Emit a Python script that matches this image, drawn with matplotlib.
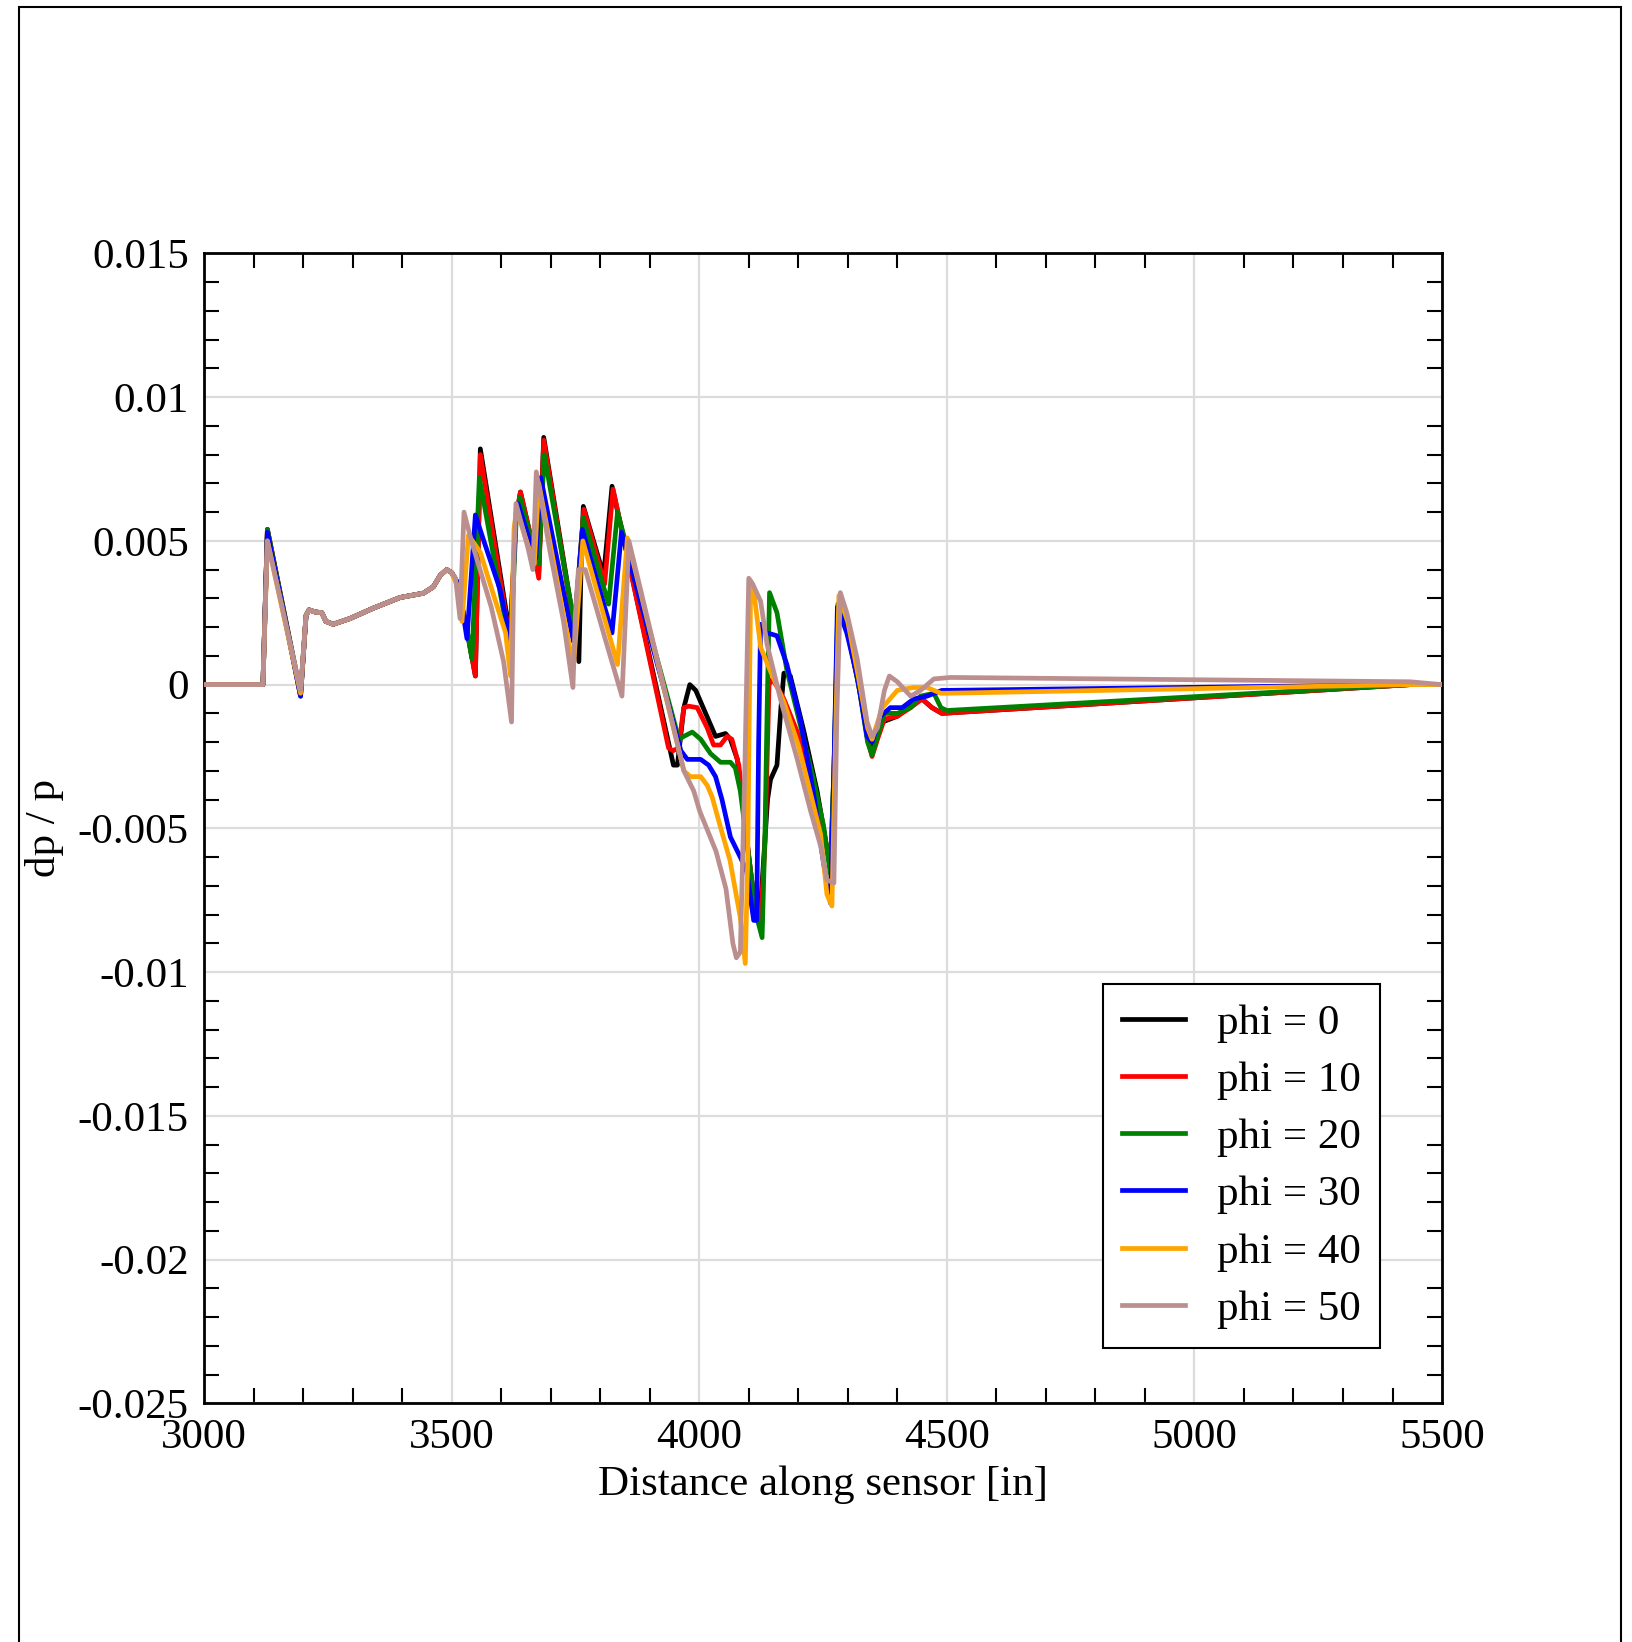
import matplotlib
matplotlib.use('Agg')
from matplotlib import pyplot as plt
from matplotlib.ticker import MultipleLocator, FuncFormatter
import matplotlib.patches as patches

plt.rcParams['font.family'] = ['Liberation Serif', 'DejaVu Serif']
plt.rcParams['axes.unicode_minus'] = False

#==== data ====
labels = ['phi = 0', 'phi = 10', 'phi = 20', 'phi = 30', 'phi = 40', 'phi = 50']
colors = ['black', 'red', 'green', 'blue', 'orange', 'rosybrown']

# first spike / dip, slightly different per phi
peak_3128 = [0.0054, 0.0054, 0.0054, 0.0053, 0.0050, 0.0050]
dip_3195 = [-0.0003, -0.0004, -0.0004, -0.0004, -0.0003, -0.0002]

# common part of all runs up to ~3500 in
x_common = [3206, 3212, 3224, 3238, 3246, 3261, 3295, 3342, 3396, 3443, 3463, 3477, 3490, 3500]
y_common = [0.0024, 0.0026, 0.00253, 0.0025, 0.0022, 0.0021, 0.0023, 0.00266, 0.00303, 0.00318,
            0.0034, 0.0038, 0.0040, 0.0039]

# the rest of each run
x_phi0 = [3510, 3531, 3548, 3558, 3618, 3630, 3639, 3659, 3676, 3686, 3748, 3757, 3762, 3766, 3807,
          3824, 3948, 3956, 3969, 3981, 3993, 4013, 4033, 4053, 4063, 4077, 4095, 4110, 4118, 4124,
          4138, 4144, 4157, 4165, 4171, 4184, 4211, 4238, 4265, 4272, 4281, 4298, 4325, 4349, 4370,
          4400, 4430, 4450, 4470, 4490, 5435, 5500]
y_phi0 = [0.0036, 0.0019, 0.0003, 0.0082, 0.0017, 0.0058, 0.0067, 0.0052, 0.0039, 0.0086, 0.0020,
          0.0008, 0.0045, 0.0062, 0.0038, 0.0069, -0.0028, -0.0028, -0.0008, 0.0, -0.0002, -0.0010,
          -0.0018, -0.0017, -0.0019, -0.0026, -0.0052, -0.0074, -0.0081, -0.0077, -0.0040, -0.0033,
          -0.0028, -0.0008, 0.0004, 0.0003, -0.0016, -0.0037, -0.0064, -0.0030, 0.0028, 0.0020,
          -0.0003, -0.0024, -0.0013, -0.0011, -0.0007, -0.0005, -0.0008, -0.0010, 0.0, 0.0]

x_phi10 = [3510, 3531, 3548, 3558, 3618, 3630, 3639, 3659, 3676, 3686, 3748, 3767, 3809, 3826, 3938,
           3947, 3958, 3969, 3979, 3996, 4016, 4029, 4043, 4056, 4066, 4080, 4100, 4115, 4124, 4133,
           4141, 4148, 4158, 4171, 4204, 4231, 4258, 4268, 4274, 4282, 4300, 4320, 4340, 4349, 4360,
           4374, 4400, 4427, 4450, 4470, 4490, 5435, 5500]
y_phi10 = [0.0036, 0.0019, 0.0003, 0.0080, 0.0015, 0.0058, 0.0067, 0.0052, 0.0037, 0.0085, 0.0019,
           0.0061, 0.0035, 0.0068, -0.0022, -0.0023, -0.0022, -0.0008, -0.00075, -0.0008, -0.0015,
           -0.0021, -0.0021, -0.0018, -0.0019, -0.0028, -0.0060, -0.0080, -0.0082, -0.0055, 0.0,
           0.0002, -0.0001, -0.0005, -0.0019, -0.0035, -0.0057, -0.0061, -0.0020, 0.0027, 0.0019,
           0.0003, -0.0019, -0.0025, -0.0019, -0.0012, -0.0011, -0.0008, -0.0005, -0.0008, -0.0010,
           0.0, 0.0]

x_phi20 = [3510, 3530, 3541, 3556, 3619, 3630, 3638, 3660, 3676, 3687, 3748, 3766, 3817, 3835, 3959,
           3969, 3986, 4003, 4023, 4043, 4063, 4073, 4083, 4100, 4115, 4127, 4133, 4137, 4142, 4157,
           4177, 4204, 4231, 4251, 4265, 4272, 4280, 4300, 4320, 4340, 4349, 4360, 4374, 4400, 4427,
           4447, 4474, 4488, 4500, 5435, 5500]
y_phi20 = [0.0036, 0.0020, 0.0009, 0.0072, 0.0012, 0.0056, 0.0065, 0.0051, 0.0042, 0.0080, 0.0021,
           0.0058, 0.0028, 0.0060, -0.0019, -0.0018, -0.00165, -0.0019, -0.0024, -0.0027, -0.0027,
           -0.0029, -0.0037, -0.0060, -0.0080, -0.0088, -0.0050, -0.0010, 0.0032, 0.0025, 0.0005,
           -0.0014, -0.0033, -0.0049, -0.0066, -0.0030, 0.0028, 0.0019, 0.0002, -0.0020, -0.00245,
           -0.0018, -0.0010, -0.0010, -0.0008, -0.0004, -0.0003, -0.0008, -0.0009, 0.0, 0.0]

x_phi30 = [3510, 3522, 3531, 3548, 3565, 3598, 3615, 3619, 3628, 3634, 3658, 3670, 3680, 3746, 3764,
           3824, 3843, 3963, 3976, 4003, 4019, 4033, 4046, 4063, 4083, 4096, 4110, 4116, 4120, 4124,
           4137, 4157, 4177, 4204, 4231, 4251, 4265, 4272, 4279, 4298, 4320, 4339, 4349, 4366, 4386,
           4410, 4433, 4460, 4490, 4500, 5435, 5500]
y_phi30 = [0.0036, 0.0026, 0.0016, 0.0059, 0.0050, 0.0033, 0.0019, 0.0010, 0.0055, 0.0063, 0.0050,
           0.0044, 0.0072, 0.0015, 0.0054, 0.0018, 0.0053, -0.0023, -0.0026, -0.0026, -0.0028,
           -0.0032, -0.0040, -0.0053, -0.0060, -0.0065, -0.0082, -0.0082, -0.0020, 0.0021, 0.0018,
           0.0017, 0.0007, -0.0012, -0.0038, -0.0062, -0.0076, -0.0030, 0.0027, 0.0018, 0.0002,
           -0.0018, -0.0020, -0.0011, -0.0008, -0.0008, -0.0005, -0.0004, -0.0002, -0.0002, 0.0, 0.0]

x_phi40 = [3510, 3521, 3534, 3558, 3585, 3609, 3619, 3626, 3631, 3655, 3667, 3676, 3746, 3765, 3835,
           3855, 3969, 3982, 4003, 4016, 4026, 4042, 4062, 4083, 4093, 4098, 4104, 4112, 4124, 4143,
           4171, 4200, 4218, 4245, 4258, 4268, 4275, 4282, 4300, 4320, 4340, 4349, 4370, 4400, 4432,
           4460, 4488, 4500, 5435, 5500]
y_phi40 = [0.0035, 0.0022, 0.0052, 0.0046, 0.0031, 0.0018, 0.0003, 0.0054, 0.0061, 0.0048, 0.0042,
           0.0070, 0.0006, 0.0050, 0.0007, 0.0051, -0.0030, -0.0032, -0.0032, -0.0035, -0.0039,
           -0.0049, -0.0061, -0.0081, -0.0097, -0.0060, 0.0036, 0.0030, 0.0013, 0.0005, -0.0006,
           -0.0021, -0.0033, -0.0052, -0.0073, -0.0077, -0.0020, 0.0031, 0.0022, 0.0004, -0.0015,
           -0.0019, -0.0008, -0.0002, -0.0001, -0.0001, -0.0003, -0.0003, 0.0, 0.0]

x_phi50 = [3508, 3517, 3525, 3540, 3580, 3605, 3621, 3626, 3630, 3655, 3664, 3671, 3699, 3726, 3745,
           3750, 3756, 3770, 3810, 3844, 3858, 3969, 3989, 4001, 4034, 4054, 4068, 4075, 4083, 4092,
           4100, 4108, 4124, 4137, 4164, 4198, 4225, 4245, 4258, 4272, 4278, 4285, 4298, 4319, 4339,
           4349, 4360, 4374, 4384, 4400, 4427, 4447, 4474, 4508, 5435, 5500]
y_phi50 = [0.0037, 0.0023, 0.0060, 0.0050, 0.0027, 0.0008, -0.0013, 0.0045, 0.0063, 0.0047, 0.0040,
           0.0074, 0.0046, 0.0022, -0.0001, 0.0025, 0.0040, 0.0040, 0.0016, -0.0004, 0.0050, -0.0030,
           -0.0037, -0.0044, -0.0058, -0.0071, -0.0090, -0.0095, -0.0093, -0.0030, 0.0037, 0.0035,
           0.0029, 0.0014, -0.0005, -0.0026, -0.0044, -0.0056, -0.0068, -0.0069, -0.0010, 0.0032,
           0.0025, 0.0009, -0.0013, -0.0018, -0.0015, -0.0002, 0.0003, 0.0001, -0.0004, -0.0002,
           0.0002, 0.00025, 0.0001, 0.0]

x_tails = [x_phi0, x_phi10, x_phi20, x_phi30, x_phi40, x_phi50]
y_tails = [y_phi0, y_phi10, y_phi20, y_phi30, y_phi40, y_phi50]

#==== figure ====
fig = plt.figure(figsize=(16.32, 16.42), dpi=100)
ax = fig.add_axes([0.125, 0.1453, 0.7586, 0.7004])

for i in range(len(labels)):
    xs = [3000, 3119, 3128, 3195] + x_common + x_tails[i]
    ys = [0.0, 0.0, peak_3128[i], dip_3195[i]] + y_common + y_tails[i]
    ax.plot(xs, ys, color=colors[i], lw=3.4, label=labels[i], zorder=3,
            solid_joinstyle='round')

ax.set_xlim(3000, 5500)
ax.set_ylim(-0.025, 0.015)
ax.xaxis.set_major_locator(MultipleLocator(500))
ax.xaxis.set_minor_locator(MultipleLocator(100))
ax.yaxis.set_major_locator(MultipleLocator(0.005))
ax.yaxis.set_minor_locator(MultipleLocator(0.001))
ax.yaxis.set_major_formatter(FuncFormatter(lambda v, _: '%g' % (round(v, 4) + 0.0)))

ax.grid(True, which='major', color='#dcdcdc', lw=1.6, zorder=0)
ax.set_axisbelow(True)

ax.tick_params(which='major', length=0, labelsize=31)
ax.tick_params(axis='x', which='major', pad=11)
ax.tick_params(axis='y', which='major', pad=11)
ax.tick_params(which='minor', direction='in', length=11, width=1.5,
               top=True, right=True, bottom=True, left=True)
for sp in ax.spines.values():
    sp.set_linewidth(2)

ax.set_xlabel('Distance along sensor [in]', fontsize=31, labelpad=6)
ax.set_ylabel('dp / p', fontsize=31, labelpad=10)

leg = ax.legend(loc='upper right', bbox_to_anchor=(0.950, 0.3645), fontsize=31,
                fancybox=False, edgecolor='black', framealpha=1,
                handlelength=1.46, handletextpad=0.74, borderpad=0.45,
                labelspacing=0.42, borderaxespad=0)
leg.get_frame().set_linewidth(1.5)

# thin frame round the whole picture
fig.add_artist(patches.Rectangle((19/1632, -0.01), (1621-19)/1632, 1.01 - 7.5/1642,
                                 transform=fig.transFigure, fill=False,
                                 edgecolor='black', lw=1.5))

fig.savefig('out.png', dpi=100)
